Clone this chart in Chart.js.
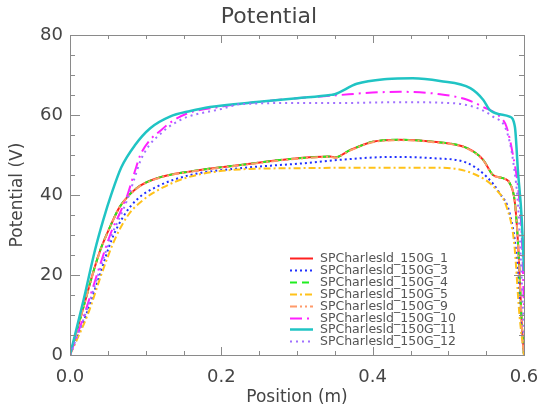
<!DOCTYPE html>
<html>
<head>
<meta charset="utf-8">
<script src="https://cdn.jsdelivr.net/npm/chart.js@4/dist/chart.umd.min.js"></script>
<style>
  html, body { margin: 0; padding: 0; background: #fff; }
  #wrap { width: 538px; height: 414px; }
</style>
</head>
<body>
<div id="wrap"><canvas id="potential"></canvas></div>
<script>
// Potential profiles along the probe, one run per series
const runNames = [
  'SPCharlesld_150G_1', 'SPCharlesld_150G_3', 'SPCharlesld_150G_4', 'SPCharlesld_150G_5',
  'SPCharlesld_150G_9', 'SPCharlesld_150G_10', 'SPCharlesld_150G_11', 'SPCharlesld_150G_12'
];

// run 1 / 4 / 9 (nearly identical)
const posLow = [0, 0.018, 0.029, 0.040, 0.053, 0.066, 0.088, 0.115, 0.159, 0.225, 0.291, 0.344, 0.35, 0.37, 0.40, 0.436, 0.48, 0.525, 0.546, 0.559, 0.572, 0.581, 0.588, 0.593, 0.597, 0.6];
const volt1 = [0, 12.1, 19.6, 26.2, 32.1, 37.1, 41.7, 44.2, 45.9, 47.5, 49, 49.6, 49.4, 51.2, 53.3, 53.8, 53.3, 51.7, 48.8, 45, 44.2, 43, 38, 25, 8, 0];
const volt4 = [0, 12.1, 19.6, 26.2, 32.1, 37.1, 41.7, 44.2, 45.9, 47.5, 49, 49.6, 49.4, 51.2, 53.3, 53.8, 53.3, 51.7, 48.8, 45, 44.2, 43, 38, 25, 8, 0];
const volt9 = [0, 12, 19.5, 26.1, 32, 37, 41.6, 44.1, 45.8, 47.4, 48.9, 49.5, 49.3, 51.1, 53.2, 53.7, 53.2, 51.6, 48.7, 45, 44.2, 43, 38, 25, 8, 0];

// run 3
const pos3 = [0, 0.022, 0.040, 0.055, 0.0705, 0.088, 0.115, 0.159, 0.225, 0.313, 0.357, 0.423, 0.48, 0.525, 0.551, 0.568, 0.581, 0.59, 0.596, 0.6];
const volt3 = [0, 10.4, 20.4, 28.8, 34.6, 38.8, 42.1, 45, 46.7, 48, 48.8, 49.5, 49.2, 48, 44.5, 40.4, 35.5, 25, 8, 0];

// run 5
const pos5 = [0, 0.024, 0.042, 0.059, 0.077, 0.097, 0.123, 0.159, 0.225, 0.3, 0.357, 0.489, 0.537, 0.564, 0.577, 0.587, 0.594, 0.6];
const volt5 = [0, 10.4, 20.4, 28.8, 35, 38.8, 41.9, 44.6, 46.4, 46.7, 46.8, 46.8, 45, 41.2, 37, 28, 10, 0];

// run 10
const pos10 = [0, 0.018, 0.033, 0.044, 0.055, 0.066, 0.075, 0.085, 0.093, 0.105, 0.119, 0.135, 0.155, 0.198, 0.25, 0.30, 0.344, 0.357, 0.40, 0.436, 0.489, 0.525, 0.546, 0.568, 0.577, 0.585, 0.592, 0.597, 0.6];
const volt10 = [0, 9.6, 18.5, 25, 31, 35.5, 39.5, 45.5, 50, 53.6, 56, 58.4, 60.4, 62, 63.3, 64.2, 64.8, 65, 65.6, 65.8, 65.2, 63.8, 62, 59.6, 57, 50.4, 42, 30, 12];

// run 11
const pos11 = [0, 0.018, 0.033, 0.044, 0.055, 0.068, 0.086, 0.106, 0.132, 0.159, 0.185, 0.25, 0.30, 0.344, 0.35, 0.379, 0.419, 0.453, 0.489, 0.529, 0.546, 0.555, 0.568, 0.581, 0.588, 0.592, 0.597, 0.6];
const volt11 = [0, 13.8, 26.2, 33.8, 40.4, 47, 52.5, 56.7, 59.6, 61, 62, 63.3, 64.2, 65, 65.2, 67.8, 69, 69.2, 68.5, 66.7, 63.8, 61.2, 60.2, 59.6, 57, 46, 34, 21];

// run 12
const pos12 = [0, 0.018, 0.033, 0.044, 0.055, 0.066, 0.075, 0.085, 0.093, 0.105, 0.119, 0.135, 0.155, 0.2, 0.225, 0.3, 0.357, 0.436, 0.502, 0.537, 0.559, 0.577, 0.586, 0.593, 0.6];
const volt12 = [0, 9, 17.5, 24, 30, 34.5, 38.5, 44, 48.5, 52.5, 55.2, 57.6, 59.5, 61.5, 62.7, 63, 63, 63.2, 63, 61.8, 59.6, 56, 48, 35, 5];

const xTicks = [0, 0.2, 0.4, 0.6];
const yTicks = [0, 20, 40, 60, 80];

const pts = (xs, ys) => xs.map((x, i) => ({ x: x, y: ys[i] }));

const series = [
  { data: pts(posLow, volt1), color: '#ff2020', dash: [], width: 2 },
  { data: pts(pos3, volt3), color: '#2030ff', dash: [2, 3], width: 2 },
  { data: pts(posLow, volt4), color: '#20ee20', dash: [7, 5], width: 2 },
  { data: pts(pos5, volt5), color: '#ffc21a', dash: [7, 3, 2, 3], width: 2 },
  { data: pts(posLow, volt9), color: '#ff9a6a', dash: [7, 3, 2, 3, 2, 3], width: 2 },
  { data: pts(pos10, volt10), color: '#ff20ff', dash: [12, 5, 2, 5], width: 2 },
  { data: pts(pos11, volt11), color: '#20c4c4', dash: [], width: 2.5 },
  { data: pts(pos12, volt12), color: '#a070ff', dash: [2, 4], width: 2 }
];

const datasets = series.map((s, i) => ({
  label: runNames[i],
  data: s.data,
  borderColor: s.color,
  backgroundColor: s.color,
  borderDash: s.dash,
  borderWidth: s.width,
  borderCapStyle: 'butt',
  pointRadius: 0,
  cubicInterpolationMode: 'monotone',
  // later runs sit on top
  order: runNames.length - i
}));

const AXIS = '#8a8a8a';
const TEXT = '#454545';
const near = (v, step) => Math.abs(v / step - Math.round(v / step)) < 1e-6;

// box frame, inward ticks on all four sides and the line legend
const frame = {
  id: 'frame',
  afterDatasetsDraw(chart) {
    const { ctx, chartArea: a, scales } = chart;
    const xs = scales.x, ys = scales.y;
    ctx.save();
    ctx.strokeStyle = AXIS;
    ctx.lineWidth = 1;
    ctx.setLineDash([]);
    ctx.strokeRect(a.left + 0.5, a.top + 0.5, a.right - a.left, a.bottom - a.top);
    ctx.beginPath();
    xs.ticks.forEach(t => {
      const px = Math.round(xs.getPixelForValue(t.value)) + 0.5;
      const len = xTicks.some(v => Math.abs(v - t.value) < 1e-6) ? 8 : 4;
      ctx.moveTo(px, a.bottom); ctx.lineTo(px, a.bottom - len);
      ctx.moveTo(px, a.top); ctx.lineTo(px, a.top + len);
    });
    ys.ticks.forEach(t => {
      const py = Math.round(ys.getPixelForValue(t.value)) + 0.5;
      const len = yTicks.includes(t.value) ? 10 : 5;
      ctx.moveTo(a.left, py); ctx.lineTo(a.left + len, py);
      ctx.moveTo(a.right, py); ctx.lineTo(a.right - len, py);
    });
    ctx.stroke();

    // legend
    const lx = 290, ly = 258, row = 11.9;
    ctx.font = '12.5px "DejaVu Sans"';
    ctx.textBaseline = 'middle';
    ctx.fillStyle = '#555';
    chart.data.datasets.forEach((d, i) => {
      const y = Math.round(ly + i * row) + 0.5;
      ctx.strokeStyle = d.borderColor;
      ctx.lineWidth = d.borderWidth;
      ctx.setLineDash(d.borderDash);
      ctx.beginPath();
      ctx.moveTo(lx, y); ctx.lineTo(lx + 23, y);
      ctx.stroke();
      ctx.fillText(d.label, lx + 30, y);
    });
    ctx.restore();
  }
};

new Chart(document.getElementById('potential'), {
  type: 'line',
  data: { datasets },
  plugins: [frame],
  options: {
    responsive: true,
    maintainAspectRatio: false,
    animation: false,
    layout: { padding: { left: 0, right: 0, top: 0, bottom: 0 } },
    plugins: {
      legend: { display: false },
      tooltip: { enabled: false },
      title: {
        display: true,
        text: 'Potential',
        color: TEXT,
        font: { family: 'DejaVu Sans', size: 22, weight: 'normal' },
        padding: { top: 4, bottom: 4.6 }
      }
    },
    scales: {
      x: {
        type: 'linear',
        min: 0, max: 0.6,
        grid: { display: false, drawTicks: false },
        border: { display: false },
        ticks: {
          stepSize: 0.05,
          autoSkip: false,
          maxRotation: 0,
          padding: 12,
          color: TEXT,
          font: { family: 'DejaVu Sans', size: 18 },
          callback: v => near(v, 0.2) ? v.toFixed(1) : ''
        },
        title: {
          display: true,
          text: 'Position (m)',
          color: TEXT,
          font: { family: 'DejaVu Sans', size: 17 },
          padding: { top: 0, bottom: 6 }
        },
        afterFit: s => { s.height = 59; s.paddingRight = 14; }
      },
      y: {
        min: 0, max: 80,
        grid: { display: false, drawTicks: false },
        border: { display: false },
        ticks: {
          stepSize: 5,
          autoSkip: false,
          padding: 7,
          color: TEXT,
          font: { family: 'DejaVu Sans', size: 18 },
          callback: v => yTicks.includes(v) ? String(v) : ''
        },
        title: {
          display: true,
          text: 'Potential (V)',
          color: TEXT,
          font: { family: 'DejaVu Sans', size: 17 },
          padding: { top: 7, bottom: 0 }
        },
        afterFit: s => { s.width = 70; }
      }
    }
  }
});
</script>
</body>
</html>
